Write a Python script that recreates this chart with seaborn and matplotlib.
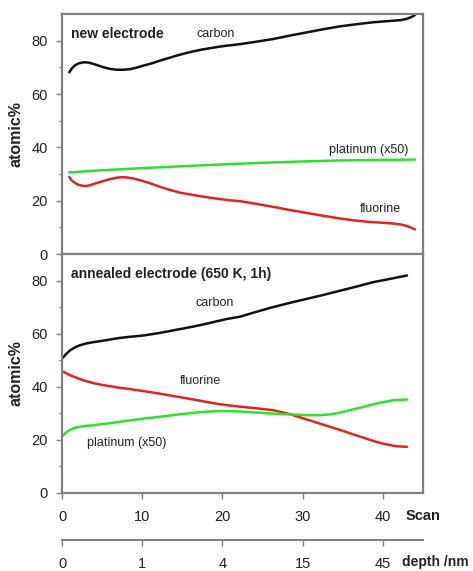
import numpy as np
import pandas as pd
import matplotlib
matplotlib.use("Agg")
import matplotlib.pyplot as plt
import seaborn as sns

# --- datos ---
# electrodo nuevo
new_carbon_x = [0.9, 1.2, 1.6, 2.1, 2.7, 3.3, 3.9, 4.5, 5.2, 6.0, 6.8, 7.6, 8.5, 9.3, 10.1,
                11.2, 12.2, 13.3, 14.3, 15.4, 16.4, 17.5, 18.5, 19.5, 20.5, 22.2,
                24.2, 26.3, 28.4, 30.5, 32.6, 34.7, 36.8, 38.8, 40.5, 42.2, 43.0, 43.5, 44.0]
new_carbon_y = [68.1, 69.5, 70.7, 71.5, 71.9, 71.8, 71.3, 70.7, 70.0, 69.4, 69.1, 69.1, 69.3,
                69.9, 70.6, 71.5, 72.5, 73.5, 74.4, 75.3, 76.0, 76.7, 77.2, 77.7, 78.1, 78.7,
                79.6, 80.6, 81.9, 83.1, 84.3, 85.4, 86.2, 86.9, 87.3, 87.7, 88.2, 88.8, 89.6]

new_fluor_x = [0.9, 1.2, 1.6, 2.0, 2.5, 3.0, 3.5, 4.3, 5.2, 6.0, 6.8, 7.5, 8.1, 8.9, 9.7,
               11.0, 12.2, 13.5, 14.7, 16.0, 17.2, 18.5, 19.7, 21.0, 22.2,
               24.2, 26.3, 28.4, 30.5, 32.6, 34.7, 36.4, 38.0, 39.5, 41.0, 42.2, 43.0, 43.5, 44.0]
new_fluor_y = [28.9, 27.6, 26.7, 26.0, 25.6, 25.5, 25.8, 26.6, 27.4, 28.1, 28.6, 28.8, 28.7,
               28.3, 27.7, 26.5, 25.2, 24.0, 23.0, 22.3, 21.7, 21.1, 20.6, 20.1, 19.8,
               18.8, 17.7, 16.5, 15.4, 14.3, 13.3, 12.6, 12.1, 11.8, 11.5, 11.1, 10.5, 9.9, 9.2]

new_pt_x = [0.9, 5, 10, 15, 20, 25, 30, 35, 40, 44.0]
new_pt_y = [30.6, 31.4, 32.2, 32.9, 33.6, 34.2, 34.7, 35.1, 35.3, 35.4]

# electrodo recocido
ann_carbon_x = [0.0, 0.5, 1.0, 1.6, 2.2, 3.0, 3.9, 5.0, 6.0, 7.0, 8.1, 9.1, 10.1, 11.2, 12.2,
                13.3, 14.3, 15.4, 16.4, 17.5, 18.5, 19.5, 20.5, 22.2, 24.2, 26.3, 28.4,
                30.5, 32.6, 34.7, 36.8, 38.8, 41.0, 43.0]
ann_carbon_y = [50.6, 52.3, 53.7, 54.8, 55.6, 56.3, 56.8, 57.3, 57.8, 58.3, 58.7, 59.0, 59.3,
                59.8, 60.3, 60.9, 61.5, 62.1, 62.7, 63.4, 64.1, 64.8, 65.5, 66.4, 68.2, 70.0,
                71.6, 73.1, 74.6, 76.2, 77.8, 79.4, 80.7, 81.9]

ann_fluor_x = [0.0, 0.9, 1.8, 2.8, 3.9, 5.0, 6.0, 7.0, 8.1, 10.1, 12.2, 14.3, 16.4, 18.0,
               19.7, 21.0, 22.2, 24.2, 26.3, 28.4, 30.5, 32.6, 34.7, 36.8, 38.8, 40.0,
               41.3, 42.2, 43.0]
ann_fluor_y = [45.9, 44.5, 43.4, 42.3, 41.4, 40.7, 40.2, 39.7, 39.3, 38.4, 37.4, 36.3, 35.2,
               34.3, 33.4, 32.9, 32.5, 31.9, 31.2, 29.7, 27.7, 25.7, 23.7, 21.6, 19.6, 18.6,
               17.8, 17.5, 17.4]

ann_pt_x = [0.0, 0.3, 0.6, 1.1, 1.8, 2.8, 3.9, 6.0, 8.1, 10.1, 12.2, 14.3, 16.4, 18.0, 19.7,
            22.2, 24.2, 26.3, 28.4, 30.5, 32.0, 33.4, 34.7, 35.9, 37.4, 38.8, 40.0, 41.3,
            42.2, 43.0]
ann_pt_y = [21.2, 22.2, 23.0, 24.0, 24.7, 25.2, 25.5, 26.3, 27.2, 28.0, 28.7, 29.5, 30.2,
            30.6, 30.9, 30.7, 30.3, 29.9, 29.6, 29.3, 29.3, 29.6, 30.3, 31.2, 32.3, 33.4,
            34.2, 34.9, 35.1, 35.2]

scan_ticks = [0, 10, 20, 30, 40]
depth_labels = ["0", "1", "4", "15", "45"]

# --- estilo ---
sns.set_style("ticks")
plt.rcParams["font.family"] = ["Liberation Sans", "DejaVu Sans"]
GRAY = "#808080"
TXT = "#222222"
BLACK = "#111111"
RED = "#e3241c"
GREEN = "#2fe02f"

fig = plt.figure(figsize=(4.73, 5.71), dpi=100)
W, H = 473, 571


def px_axes(left, top, right, bottom):
    return fig.add_axes([left / W, 1 - bottom / H, (right - left) / W, (bottom - top) / H])


ax_top = px_axes(62, 14, 423, 254)
ax_bot = px_axes(62, 254, 423, 493)
ax_depth = px_axes(62, 500, 423, 540)

panels = [
    (ax_top, [(new_carbon_x, new_carbon_y, BLACK), (new_fluor_x, new_fluor_y, RED),
              (new_pt_x, new_pt_y, GREEN)]),
    (ax_bot, [(ann_carbon_x, ann_carbon_y, BLACK), (ann_fluor_x, ann_fluor_y, RED),
              (ann_pt_x, ann_pt_y, GREEN)]),
]

for ax, series in panels:
    for xs, ys, col in series:
        df = pd.DataFrame({"x": xs, "y": ys})
        sns.lineplot(data=df, x="x", y="y", color=col, lw=1.8, ax=ax, sort=False,
                     solid_joinstyle="round", solid_capstyle="round")
    ax.set_xlim(0, 45)
    ax.set_ylim(0, 90)
    ax.set_yticks([0, 20, 40, 60, 80])
    ax.set_yticks([10, 30, 50, 70], minor=True)
    ax.set_xlabel("")
    ax.set_ylabel("atomic%", fontsize=11.5, fontweight="bold", color=TXT, labelpad=6)
    for s in ax.spines.values():
        s.set_color(GRAY)
        s.set_linewidth(1.6)
    ax.tick_params(axis="y", which="major", length=4, width=1, color=GRAY,
                   labelsize=10.5, labelcolor=TXT, pad=6)
    ax.tick_params(axis="y", which="minor", length=2.5, width=0.8, color=GRAY)

ax_top.set_xticks([])
ax_bot.set_xticks(scan_ticks)
ax_bot.tick_params(axis="x", length=4, width=1, color=GRAY, labelsize=10.5,
                   labelcolor=TXT, pad=8)
ax_bot.text(0.953, -0.098, "Scan", transform=ax_bot.transAxes, fontsize=10.5,
            fontweight="bold", color=TXT, va="center", ha="left")

# eje de profundidad
ax_depth.set_xlim(0, 45)
ax_depth.set_yticks([])
for side in ["left", "right", "top"]:
    ax_depth.spines[side].set_visible(False)
ax_depth.spines["bottom"].set_color(GRAY)
ax_depth.spines["bottom"].set_linewidth(1.4)
ax_depth.patch.set_alpha(0)
ax_depth.set_xticks(scan_ticks)
ax_depth.set_xticklabels(depth_labels)
ax_depth.tick_params(axis="x", length=4, width=1, color=GRAY, labelsize=10.5,
                     labelcolor=TXT, pad=8)
ax_depth.text(0.942, -0.55, "depth /nm", transform=ax_depth.transAxes, fontsize=10,
              fontweight="bold", color=TXT, va="center", ha="left")

# anotaciones
ax_top.text(1.1, 82.6, "new electrode", fontsize=10, fontweight="bold", color=TXT, va="center")
ax_top.text(16.8, 82.6, "carbon", fontsize=9, color=TXT, va="center")
ax_top.text(43.2, 38.9, "platinum (x50)", fontsize=9, color=TXT, va="center", ha="right")
ax_top.text(42.2, 16.8, "fluorine", fontsize=9, color=TXT, va="center", ha="right")

ax_bot.text(1.1, 82.6, "annealed electrode (650 K, 1h)", fontsize=10, fontweight="bold",
            color=TXT, va="center")
ax_bot.text(16.6, 71.7, "carbon", fontsize=9, color=TXT, va="center")
ax_bot.text(14.7, 42.1, "fluorine", fontsize=9, color=TXT, va="center")
ax_bot.text(3.1, 18.8, "platinum (x50)", fontsize=9, color=TXT, va="center")

fig.savefig("out.png", dpi=100)
